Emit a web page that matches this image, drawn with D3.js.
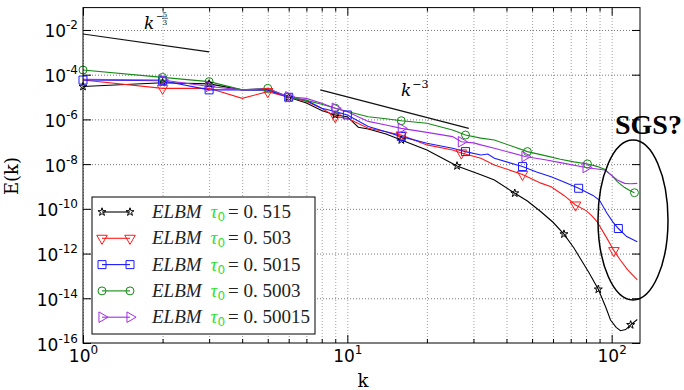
<!DOCTYPE html>
<html>
<head>
<meta charset="utf-8">
<script src="https://cdn.jsdelivr.net/npm/d3@7"></script>
<style>
	body { margin: 0; background: #fff; }
	svg { display: block; }
</style>
</head>
<body>
<svg id="chart" width="684" height="390"></svg>
<script>
// Values (wavenumber k, energy E(k))
const kBlack = [1, 2, 3, 4, 5, 6, 7, 8, 9, 10, 11, 12, 14, 16, 20, 23, 26, 32, 36, 43, 48, 54, 60, 66, 72, 76, 82, 89, 95, 99, 104, 108, 113, 118, 125];
const eBlack = [2.95e-5, 4.37e-5, 3.89e-5, 2.09e-5, 2.09e-5, 9.77e-6, 5.37e-6, 2.51e-6, 1.58e-6, 1.32e-6, 4.47e-7, 3.72e-7, 2.24e-7, 1.2e-7, 4.27e-8, 1.78e-8, 8.32e-9, 3.31e-9, 1.95e-9, 5.01e-10, 2.24e-10, 7.41e-11, 2.51e-11, 7.41e-12, 1.78e-12, 6.17e-13, 1.41e-13, 2.51e-14, 3.98e-15, 1.07e-15, 5.01e-16, 3.55e-16, 3.98e-16, 6.46e-16, 1.12e-15];
const mBlack = [1, 2, 3, 6, 9, 16, 26, 43, 66, 89, 118];

const kRed = [1, 2, 3, 4, 5, 6, 7, 8, 9, 10, 12, 14, 16, 20, 25, 27, 32, 36, 46, 54, 59, 66, 73, 80, 84, 88, 92, 96, 102, 108, 115, 125];
const eRed = [5.75e-5, 2.45e-5, 2.45e-5, 8.71e-6, 1.74e-5, 9.77e-6, 6.31e-6, 3.16e-6, 1.32e-6, 1.12e-6, 3.98e-7, 2.82e-7, 2.0e-7, 7.24e-8, 4.27e-8, 3.16e-8, 1.82e-8, 9.12e-9, 3.47e-9, 1.41e-9, 9.77e-10, 3.98e-10, 1.48e-10, 8.32e-11, 5.01e-11, 2.69e-11, 1.12e-11, 4.79e-12, 1.35e-12, 5.01e-13, 1.86e-13, 6.61e-14];
const mRed = [2, 5, 9, 16, 27, 46, 73, 102];

const kBlue = [1, 2, 3, 4, 5, 6, 7, 8, 9, 10, 12, 14, 16, 20, 25, 28, 32, 34, 36, 46, 52, 59, 66, 75, 85, 90, 96, 101, 106, 114, 125];
const eBlue = [5.75e-5, 5.37e-5, 2.09e-5, 2.09e-5, 2.09e-5, 9.77e-6, 7.08e-6, 3.16e-6, 2.24e-6, 1.58e-6, 4.79e-7, 2.82e-7, 1.7e-7, 8.51e-8, 5.13e-8, 3.63e-8, 2.57e-8, 2.82e-8, 1.82e-8, 7.76e-9, 4.47e-9, 2.75e-9, 1.58e-9, 8.32e-10, 3.98e-10, 2.4e-10, 6.31e-11, 2.63e-11, 1.32e-11, 5.75e-12, 3.39e-12];
const mBlue = [1, 2, 3, 6, 10, 16, 28, 46, 75, 106];

const kGreen = [1, 2, 3, 4, 5, 6, 7, 8, 9, 10, 12, 14, 16, 20, 25, 28, 32, 36, 48, 56, 64, 72, 81, 88, 94, 100, 105, 112, 118, 122];
const eGreen = [1.62e-4, 7.59e-5, 4.9e-5, 2.09e-5, 2.45e-5, 9.77e-6, 7.08e-6, 4.79e-6, 3.16e-6, 2.24e-6, 1.32e-6, 1.07e-6, 8.71e-7, 6.76e-7, 3.39e-7, 2.0e-7, 1.45e-7, 1.2e-7, 3.63e-8, 2.4e-8, 1.66e-8, 1.26e-8, 1.02e-8, 7.94e-9, 5.89e-9, 3.16e-9, 1.66e-9, 8.91e-10, 6.31e-10, 5.25e-10];
const mGreen = [1, 2, 3, 5, 9, 16, 28, 48, 81, 122];

const kPurple = [1, 2, 3, 4, 5, 6, 7, 8, 9, 10, 12, 14, 16, 20, 25, 27, 30, 32, 36, 47, 56, 64, 80, 94, 100, 105, 112, 118, 125];
const ePurple = [6.17e-5, 5.75e-5, 2.95e-5, 2.09e-5, 2.4e-5, 1.02e-5, 8.71e-6, 5.25e-6, 3.16e-6, 2.19e-6, 8.13e-7, 5.62e-7, 3.98e-7, 2.63e-7, 1.7e-7, 1.0e-7, 8.91e-8, 7.24e-8, 5.13e-8, 2.19e-8, 1.58e-8, 1.17e-8, 7.08e-9, 5.5e-9, 3.16e-9, 1.95e-9, 1.38e-9, 1.32e-9, 1.38e-9];
const mPurple = [2, 3, 6, 9, 16, 27, 47, 80];

// guide slopes, end points
const kSlope53 = [1, 3];
const eSlope53 = [6.6e-3, 1.05e-3];
const kSlope3 = [7.9, 28.8];
const eSlope3 = [2.09e-5, 4.0e-7];

const tauValues = ["0. 515", "0. 503", "0. 5015", "0. 5003", "0. 50015"];

const xMajor = [1, 10, 100];
const xMinor = [2, 3, 4, 5, 6, 7, 8, 9, 20, 30, 40, 50, 60, 70, 80, 90];
const xLabels = ["0", "1", "2"];
const yMajor = [1e-2, 1e-4, 1e-6, 1e-8, 1e-10, 1e-12, 1e-14, 1e-16];
const yLabels = ["-2", "-4", "-6", "-8", "-10", "-12", "-14", "-16"];

const series = [
	{ k: kBlack, e: eBlack, m: mBlack, color: "#000000", marker: "star" },
	{ k: kRed, e: eRed, m: mRed, color: "#ff1a1a", marker: "tridown" },
	{ k: kBlue, e: eBlue, m: mBlue, color: "#1a1aff", marker: "square" },
	{ k: kGreen, e: eGreen, m: mGreen, color: "#138a13", marker: "circle" },
	{ k: kPurple, e: ePurple, m: mPurple, color: "#a32ee6", marker: "triright" }
];
const tauColor = "#2fe02f";

const svg = d3.select("#chart"),
	plotLeft = 83,
	plotRight = 640,
	plotTop = 7.6,
	plotBottom = 343;

const x = d3.scaleLog().domain([1, 128]).range([plotLeft, plotRight]);
const y = d3.scaleLog().domain([1e-16, 1e-1]).range([plotBottom, plotTop]);

svg.append("defs").append("clipPath").attr("id", "plot")
	.append("rect").attr("x", plotLeft).attr("y", plotTop)
	.attr("width", plotRight - plotLeft).attr("height", plotBottom - plotTop);

// grid
svg.append("g")
	.attr("transform", `translate(0, ${plotBottom})`)
	.call(d3.axisBottom(x).tickValues(xMajor.concat(xMinor)).tickSize(-(plotBottom - plotTop)).tickFormat(""))
	.call((g) => g.select(".domain").remove())
	.selectAll("line")
	.attr("stroke", "#888")
	.attr("stroke-width", 0.8)
	.attr("stroke-dasharray", "1,2");
svg.append("g")
	.attr("transform", `translate(${plotLeft}, 0)`)
	.call(d3.axisLeft(y).tickValues(yMajor.slice(0, -1)).tickSize(-(plotRight - plotLeft)).tickFormat(""))
	.call((g) => g.select(".domain").remove())
	.selectAll("line")
	.attr("stroke", "#555")
	.attr("stroke-width", 0.8)
	.attr("stroke-dasharray", "1,2");

// markers
function markerPath(type) {
	if (type == "star") return d3.symbol(d3.symbolStar, 20)();
	if (type == "square") return d3.symbol(d3.symbolSquare, 64)();
	if (type == "circle") return d3.symbol(d3.symbolCircle, 50)();
	return d3.symbol(d3.symbolTriangle, 48)();
}
function markerRot(type) {
	if (type == "tridown") return 180;
	if (type == "triright") return 90;
	return 0;
}

const plot = svg.append("g").attr("clip-path", "url(#plot)");
const line = d3.line().x((d) => x(d[0])).y((d) => y(d[1]));

series.forEach((s) => {
	const pts = s.k.map((k, i) => [k, s.e[i]]);
	plot.append("path")
		.datum(pts)
		.attr("d", line)
		.attr("fill", "none")
		.attr("stroke", s.color)
		.attr("stroke-width", 1.1);
});
series.forEach((s) => {
	const marks = s.m.map((k) => [k, s.e[s.k.indexOf(k)]]);
	svg.append("g").selectAll("path")
		.data(marks)
		.enter()
		.append("path")
		.attr("d", markerPath(s.marker))
		.attr("transform", (d) => `translate(${x(d[0])}, ${y(d[1])}) rotate(${markerRot(s.marker)})`)
		.attr("fill", "none")
		.attr("stroke", s.color)
		.attr("stroke-width", 1);
});

// guide slopes
[[kSlope53, eSlope53], [kSlope3, eSlope3]].forEach((g) => {
	svg.append("path")
		.datum(g[0].map((k, i) => [k, g[1][i]]))
		.attr("d", line)
		.attr("stroke", "#111")
		.attr("stroke-width", 1.2)
		.attr("fill", "none");
});

// frame
svg.append("rect")
	.attr("x", plotLeft).attr("y", plotTop)
	.attr("width", plotRight - plotLeft).attr("height", plotBottom - plotTop)
	.attr("fill", "none").attr("stroke", "#000").attr("stroke-width", 1);

// ticks on all four sides, pointing inwards
function tickStyle(g) {
	g.select(".domain").remove();
	g.selectAll("line").attr("stroke", "#000");
}
svg.append("g").attr("transform", `translate(0, ${plotBottom})`)
	.call(d3.axisBottom(x).tickValues(xMinor).tickSize(-4).tickFormat("")).call(tickStyle);
svg.append("g").attr("transform", `translate(0, ${plotTop})`)
	.call(d3.axisTop(x).tickValues(xMinor).tickSize(-4).tickFormat("")).call(tickStyle);
svg.append("g").attr("transform", `translate(0, ${plotTop})`)
	.call(d3.axisTop(x).tickValues(xMajor).tickSize(-8).tickFormat("")).call(tickStyle);
svg.append("g").attr("transform", `translate(${plotRight}, 0)`)
	.call(d3.axisRight(y).tickValues(yMajor).tickSize(-8).tickFormat("")).call(tickStyle);

const xAxis = svg.append("g").attr("transform", `translate(0, ${plotBottom})`)
	.call(d3.axisBottom(x).tickValues(xMajor).tickSize(-8).tickFormat("")).call(tickStyle);
xAxis.selectAll(".tick").each(function (d, i) {
	const t = d3.select(this).append("text")
		.attr("y", 19)
		.attr("fill", "#000")
		.attr("text-anchor", "middle")
		.style("font-family", "DejaVu Sans")
		.style("font-size", "17px");
	t.append("tspan").text("10");
	t.append("tspan").attr("dy", -8).style("font-size", "12px").text(xLabels[i]);
});

const yAxis = svg.append("g").attr("transform", `translate(${plotLeft}, 0)`)
	.call(d3.axisLeft(y).tickValues(yMajor).tickSize(-8).tickFormat("")).call(tickStyle);
yAxis.selectAll(".tick").each(function (d, i) {
	const t = d3.select(this).append("text")
		.attr("x", -5)
		.attr("y", 7)
		.attr("fill", "#000")
		.attr("text-anchor", "end")
		.style("font-family", "DejaVu Sans")
		.style("font-size", "17px");
	t.append("tspan").text("10");
	t.append("tspan").attr("dy", -8).style("font-size", "12px").text(yLabels[i]);
});

// axis labels
svg.append("text")
	.attr("x", 363).attr("y", 387)
	.attr("text-anchor", "middle")
	.style("font-family", "DejaVu Serif")
	.style("font-size", "18px")
	.text("k");
svg.append("text")
	.attr("transform", "translate(18, 176) rotate(-90)")
	.attr("text-anchor", "middle")
	.style("font-family", "DejaVu Serif")
	.style("font-size", "18px")
	.text("E(k)");

// slope labels
const s53 = svg.append("g").style("font-family", "DejaVu Serif");
s53.append("text").attr("x", 144).attr("y", 29).style("font-style", "italic").style("font-size", "17px").text("k");
s53.append("text").attr("x", 156).attr("y", 19).style("font-size", "9px").text("−");
s53.append("text").attr("x", 165).attr("y", 16.5).attr("text-anchor", "middle").style("font-size", "7px").text("5");
s53.append("line").attr("x1", 162).attr("x2", 168).attr("y1", 18.3).attr("y2", 18.3).attr("stroke", "#000").attr("stroke-width", 0.6);
s53.append("text").attr("x", 165).attr("y", 24.5).attr("text-anchor", "middle").style("font-size", "7px").text("3");

const s3 = svg.append("text").attr("x", 401).attr("y", 96).style("font-family", "DejaVu Serif");
s3.append("tspan").style("font-style", "italic").style("font-size", "17px").text("k");
s3.append("tspan").attr("dy", -8).attr("dx", 1).style("font-size", "11px").text("−3");

// SGS? annotation
svg.append("ellipse")
	.attr("cx", 633).attr("cy", 220).attr("rx", 35).attr("ry", 80)
	.attr("fill", "none").attr("stroke", "#000").attr("stroke-width", 1.5);
svg.append("text")
	.attr("x", 615).attr("y", 134)
	.style("font-family", "Liberation Serif")
	.style("font-weight", "bold")
	.style("font-size", "28px")
	.text("SGS?");

// legend
const lg = svg.append("g");
lg.append("rect")
	.attr("x", 92).attr("y", 197).attr("width", 223).attr("height", 137)
	.attr("fill", "#fff").attr("stroke", "#000").attr("stroke-width", 1);

series.forEach((s, i) => {
	const ry = 212 + i * 26.3;
	lg.append("line")
		.attr("x1", 102).attr("x2", 130).attr("y1", ry).attr("y2", ry)
		.attr("stroke", s.color).attr("stroke-width", 1.1);
	[102, 130].forEach((mx) => {
		lg.append("path")
			.attr("d", markerPath(s.marker))
			.attr("transform", `translate(${mx}, ${ry}) rotate(${markerRot(s.marker)})`)
			.attr("fill", "none").attr("stroke", s.color);
	});
	const t = lg.append("text")
		.attr("x", 152).attr("y", ry + 6)
		.attr("fill", "#222")
		.style("font-family", "Liberation Serif")
		.style("font-size", "19px");
	t.append("tspan").style("font-style", "italic").text("ELBM");
	t.append("tspan").attr("dx", 9).style("font-style", "italic").attr("fill", tauColor).text("τ");
	t.append("tspan").attr("dy", 3).style("font-family", "DejaVu Sans").style("font-size", "12px").attr("fill", tauColor).text("0");
	t.append("tspan").attr("dy", -3).attr("dx", 3).text("= " + tauValues[i]);
});
</script>
</body>
</html>
